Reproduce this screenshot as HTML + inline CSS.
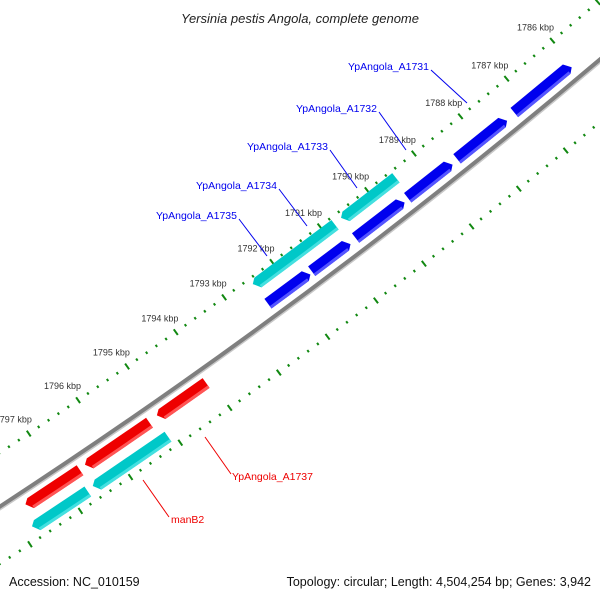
<!DOCTYPE html>
<html><head><meta charset="utf-8"><style>
html,body{margin:0;padding:0;background:#fff;}
svg{display:block;font-family:"Liberation Sans","DejaVu Sans",sans-serif;}
</style></head><body>
<svg id="map" width="600" height="600" viewBox="0 0 600 600" xmlns="http://www.w3.org/2000/svg">
<rect width="600" height="600" fill="#fff"/>
<text x="300" y="23" text-anchor="middle" font-size="13" font-style="italic" fill="#222">Yersinia pestis Angola, complete genome</text>
<g id="ticks"></g>
<g id="backbone"></g>
<g id="genes"></g>
<g id="labels"></g>
<text x="9" y="586" font-size="12.5" fill="#111">Accession: NC_010159</text>
<text x="591" y="586" text-anchor="end" font-size="12.5" fill="#111">Topology: circular; Length: 4,504,254 bp; Genes: 3,942</text>
</svg>
<script>
// data (kbp)
const fwdBlueStart = [1786.04, 1787.44, 1788.61, 1789.63, 1790.77, 1791.61];
const fwdBlueEnd   = [1787.26, 1788.49, 1789.54, 1790.64, 1791.56, 1792.47];
const fwdCyanStart = [1789.49, 1790.78];
const fwdCyanEnd   = [1790.63, 1792.48];
const revRedStart  = [1794.08, 1795.23, 1796.63];
const revRedEnd    = [1795.06, 1796.51, 1797.70];
const revCyanStart = [1795.11, 1796.72];
const revCyanEnd   = [1796.60, 1797.81];
const edgeBlueStart = [1797.95];
const edgeBlueEnd   = [1799.5];
const tickMin = 1784, tickMax = 1800;
const geneNames = ["YpAngola_A1731","YpAngola_A1732","YpAngola_A1733","YpAngola_A1734","YpAngola_A1735"];
const revNames = ["YpAngola_A1737","manB2"];

const NS="http://www.w3.org/2000/svg";
const CX=-3290, CY=-4535, R=6020;
function ang(kbp){return (51.12+(kbp-1788)*0.571)*Math.PI/180;}
function pt(r,a){return [CX+r*Math.cos(a), CY+r*Math.sin(a)];}
function mk(tag,attrs,parent){const e=document.createElementNS(NS,tag);for(const k in attrs)e.setAttribute(k,attrs[k]);parent.appendChild(e);return e;}
function arcPath(r,a1,a2){const p1=pt(r,a1),p2=pt(r,a2);return `M${p1[0]},${p1[1]} A${r},${r} 0 0 1 ${p2[0]},${p2[1]}`;}

// backbone
const bb=document.getElementById('backbone');
let e=mk('path',{d:arcPath(R+2.5,ang(1783),ang(1801)),stroke:'#c8c8c8','stroke-width':2,fill:'none'},bb);


e=mk('path',{d:arcPath(R,ang(1783),ang(1801)),stroke:'#7f7f7f','stroke-width':4,fill:'none'},bb);



// ticks
const tg=document.getElementById('ticks');
for(let i=0;i<=Math.round((tickMax-tickMin)*5);i++){
  const k=tickMin+i*0.2, a=ang(k), major=(i%5===0);
  [R-45,R+48].forEach((rr,ri)=>{
    const h=major?3.5:1.3;
    const p1=pt(rr-h,a),p2=pt(rr+h,a);
    const t=mk('line',{x1:p1[0],y1:p1[1],x2:p2[0],y2:p2[1],stroke:'#118811','stroke-width':2},tg);
    
    
  });
  if(major){
    const p=pt(R-62,a);
    const lb=mk('text',{x:p[0]-6,y:p[1]+3,'text-anchor':'middle','font-size':9,fill:'#333'},tg);
    lb.textContent=Math.round(k)+' kbp';
    
    
  }
}

// genes
const gg=document.getElementById('genes');
function gene(s,en,rc,w,fill,light,headAtStart,name){
  const a1=ang(s),a2=ang(en),ri=rc-w/2,ro=rc+w/2,hd=5/R;
  let pts;
  if(headAtStart){
    pts=[pt(ri,a1+hd),pt(ri,a2),pt(ro,a2),pt(ro,a1+hd),pt(rc+w*0.15,a1)];
    pts.splice(4,0,pt(ro,a1+hd));
  } else {
    pts=[pt(ri,a1),pt(ri,a2-hd),pt(rc-w*0.15,a2),pt(ro,a2-hd),pt(ro,a1)];
  }
  const p=mk('polygon',{points:pts.map(q=>q.join(',')).join(' '),fill:fill},gg);
  
  
  const sa=headAtStart?a1+hd:a1, ea=headAtStart?a2:a2-hd;
  const s2=mk('path',{d:arcPath(ro-1.5,sa,ea),stroke:light,'stroke-width':3,fill:'none'},gg);
  
  
}
for(let i=0;i<fwdBlueStart.length;i++) gene(fwdBlueStart[i],fwdBlueEnd[i],R-14,12,'#0000ee','#5555ff',true,'forward-gene-blue');
for(let i=0;i<fwdCyanStart.length;i++) gene(fwdCyanStart[i],fwdCyanEnd[i],R-37,12,'#00c8c8','#44e0e0',false,'forward-gene-cyan');
for(let i=0;i<revRedStart.length;i++) gene(revRedStart[i],revRedEnd[i],R+14,12,'#ee0000','#ff5555',false,'reverse-gene-red');
for(let i=0;i<revCyanStart.length;i++) gene(revCyanStart[i],revCyanEnd[i],R+36,12,'#00c8c8','#44e0e0',false,'reverse-gene-cyan');
for(let i=0;i<edgeBlueStart.length;i++) gene(edgeBlueStart[i],edgeBlueEnd[i],R-14,12,'#0000ee','#5555ff',true,'forward-gene-blue-edge');

// gene labels (annotation positions)
const lg=document.getElementById('labels');
const fwdLab=[[429,70,431,70,467,103],[377,112,379,112,406,150],[328,150,330,150,357,188],[277,189,279,189,307,226],[237,219,239,219,267,256]];
fwdLab.forEach((L,i)=>{
  const ln=mk('line',{x1:L[2],y1:L[3],x2:L[4],y2:L[5],stroke:'#0000ee','stroke-width':1},lg);
  
  
  const t=mk('text',{x:L[0],y:L[1],'text-anchor':'end','font-size':10.5,fill:'#0000ee'},lg);
  t.textContent=geneNames[i];
  
  
});
const revLab=[[232,480,205,437,231,474],[171,523,143,480,169,517]];
revLab.forEach((L,i)=>{
  const ln=mk('line',{x1:L[2],y1:L[3],x2:L[4],y2:L[5],stroke:'#ee0000','stroke-width':1},lg);
  
  
  const t=mk('text',{x:L[0],y:L[1],'font-size':10.5,fill:'#ee0000'},lg);
  t.textContent=revNames[i];
  
  
});
</script>
</body></html>
